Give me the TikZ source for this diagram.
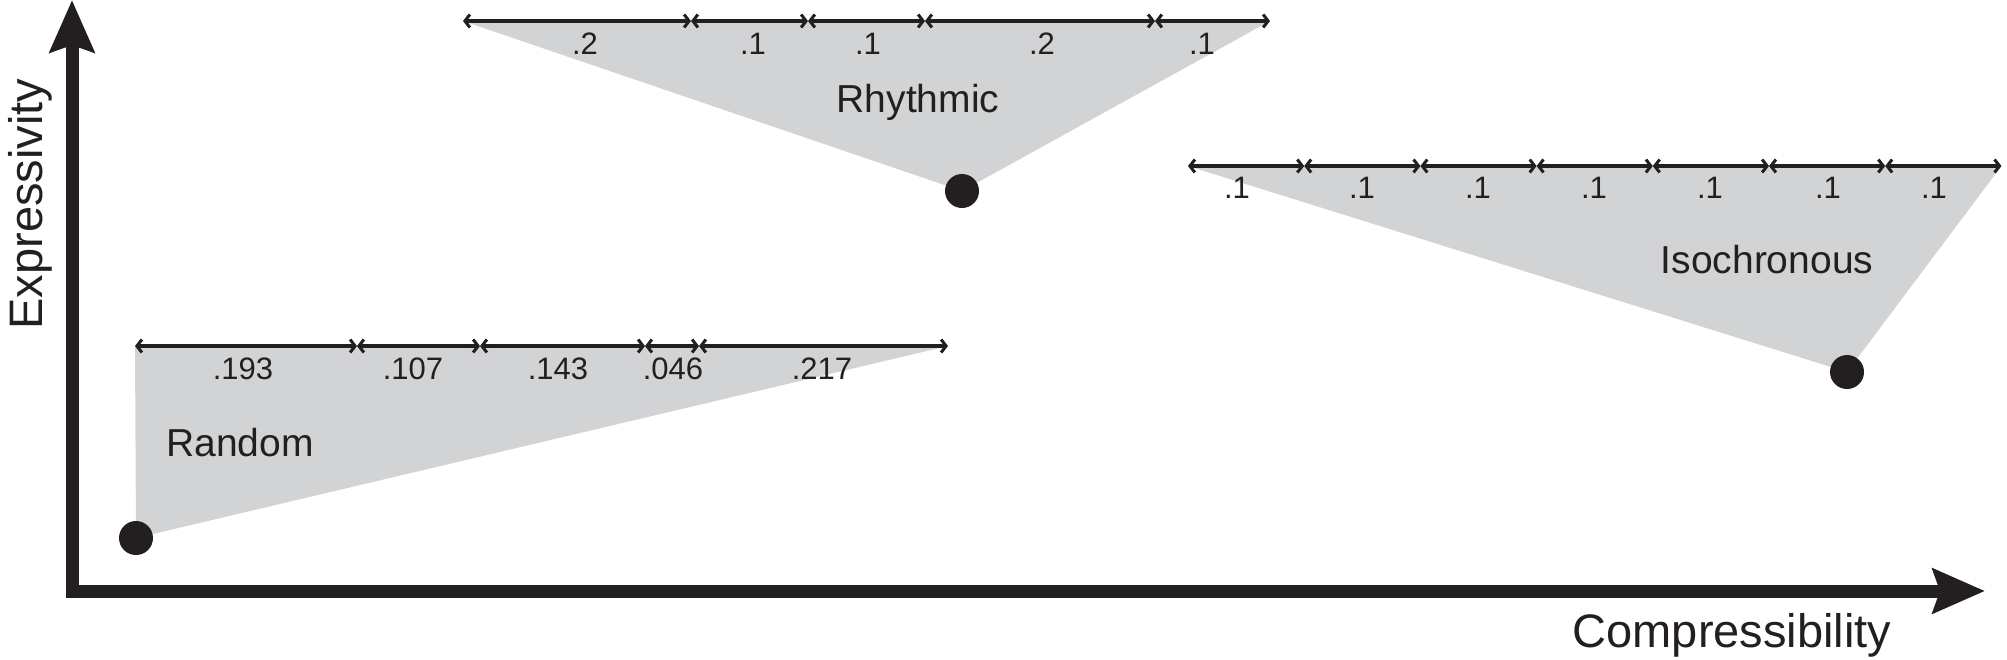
\documentclass[tikz,border=0pt]{standalone}
\usepackage{fontspec}
\setmainfont{Liberation Sans}
\usetikzlibrary{arrows.meta}
\definecolor{tri}{HTML}{D1D3D4}
\definecolor{ink}{HTML}{231F20}
\begin{document}
\begin{tikzpicture}[x=1pt,y=-1pt,
  seg/.style={draw=ink,line width=4.5pt,
    {Straight Barb[length=5pt,width=13pt,line width=3pt]}-{Straight Barb[length=5pt,width=13pt,line width=3pt]}},
  axis/.style={draw=ink,line width=13pt,line cap=butt,
    -{Stealth[length=52pt,width=44pt,inset=7pt]}},
  dot/.style={circle,fill=ink,minimum size=34pt,inner sep=0pt},
  num/.style={anchor=base,inner sep=0pt,text=ink,font=\fontsize{31}{31}\selectfont},
  catname/.style={anchor=base,inner sep=0pt,text=ink,font=\fontsize{39}{39}\selectfont},
  axlabel/.style={anchor=base,inner sep=0pt,text=ink,font=\fontsize{47}{47}\selectfont}
]
\useasboundingbox (0,0) rectangle (2007,659);

% ---- coordinates
% Random
\coordinate (r0) at (135,346); \coordinate (r1) at (357,346);
\coordinate (r2) at (480,346); \coordinate (r3) at (645,346);
\coordinate (r4) at (699,346); \coordinate (r5) at (948,346);
% Rhythmic
\coordinate (h0) at (463,21); \coordinate (h1) at (691,21);
\coordinate (h2) at (808,21); \coordinate (h3) at (925,21);
\coordinate (h4) at (1155,21); \coordinate (h5) at (1270,21);
% Isochronous
\coordinate (i0) at (1188,166); \coordinate (i1) at (1304.2,166);
\coordinate (i2) at (1420.4,166); \coordinate (i3) at (1536.6,166);
\coordinate (i4) at (1652.8,166); \coordinate (i5) at (1769,166);
\coordinate (i6) at (1885.2,166); \coordinate (i7) at (2001.4,166);

% ---- apex coordinates (dot centres)
\coordinate (rc) at (136,538);
\coordinate (hc) at (962,191);
\coordinate (ic) at (1847,372);

% ---- grey triangles
\fill[tri] (r0) -- (r5) -- (rc) -- cycle;
\fill[tri] (h0) -- (h5) -- (hc) -- cycle;
\fill[tri] (i0) -- (i7) -- (ic) -- cycle;

% ---- dots
\node[dot] (rd) at (rc) {};
\node[dot] (hd) at (hc) {};
\node[dot] (id) at (ic) {};

% ---- bars
\draw[seg] (r0) -- (r1); \draw[seg] (r1) -- (r2); \draw[seg] (r2) -- (r3);
\draw[seg] (r3) -- (r4); \draw[seg] (r4) -- (r5);
\draw[seg] (h0) -- (h1); \draw[seg] (h1) -- (h2); \draw[seg] (h2) -- (h3);
\draw[seg] (h3) -- (h4); \draw[seg] (h4) -- (h5);
\draw[seg] (i0) -- (i1); \draw[seg] (i1) -- (i2); \draw[seg] (i2) -- (i3);
\draw[seg] (i3) -- (i4); \draw[seg] (i4) -- (i5); \draw[seg] (i5) -- (i6);
\draw[seg] (i6) -- (i7);

% ---- segment values
\node[num] (rv1) at (243,379) {.193};
\node[num] (rv2) at (413,379) {.107};
\node[num] (rv3) at (558,379) {.143};
\node[num] (rv4) at (673,379) {.046};
\node[num] (rv5) at (822,379) {.217};

\node[num] (hv1) at (585,54) {.2};
\node[num] (hv2) at (753,54) {.1};
\node[num] (hv3) at (868,54) {.1};
\node[num] (hv4) at (1042,54) {.2};
\node[num] (hv5) at (1202,54) {.1};

\node[num] (iv1) at (1237,198) {.1};
\node[num] (iv2) at (1362,198) {.1};
\node[num] (iv3) at (1478,198) {.1};
\node[num] (iv4) at (1594,198) {.1};
\node[num] (iv5) at (1710,198) {.1};
\node[num] (iv6) at (1828,198) {.1};
\node[num] (iv7) at (1934,198) {.1};

% ---- category names
\node[catname] (rn) at (240,456) {Random};
\node[catname] (hn) at (918,112) {Rhythmic};
\node[catname] (in) at (1767,273) {Isochronous};

% ---- axes
\coordinate (ybot) at (72,597); \coordinate (ytop) at (72,0);
\coordinate (xl) at (66,591); \coordinate (xr) at (1985,591);
\draw[axis] (ybot) -- (ytop);
\draw[axis] (xl) -- (xr);

\node[axlabel] (xlab) at (1732,647) {Compressibility};
\node[axlabel,rotate=90] (ylab) at (42,204) {Expressivity};
\end{tikzpicture}
\end{document}
